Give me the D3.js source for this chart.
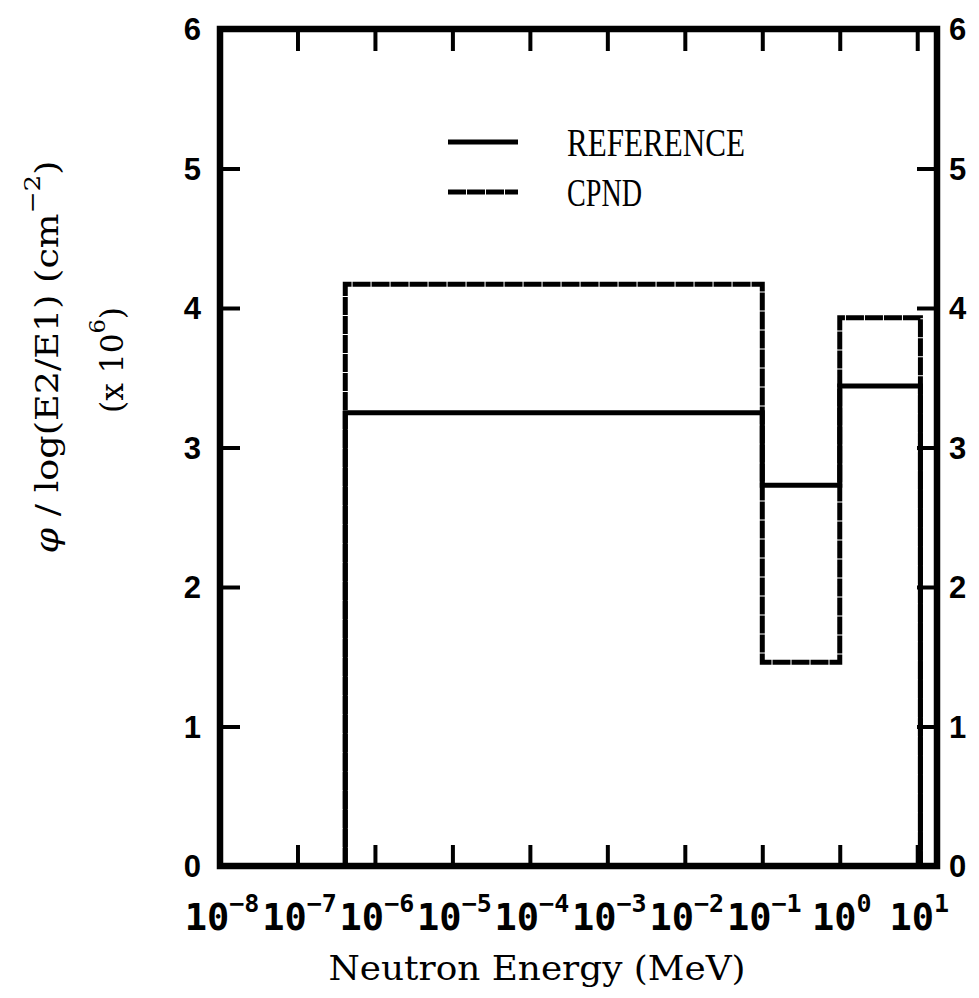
<!DOCTYPE html>
<html>
<head>
<meta charset="utf-8">
<script src="https://cdn.jsdelivr.net/npm/d3@7"></script>
<style>
  html, body { margin: 0; padding: 0; background: #fff; }
  svg { display: block; }
</style>
</head>
<body>
<svg id="chart" width="979" height="998"></svg>
<script>
// Energy bin boundaries (MeV) shared by both spectra
const binEdges = [4.14e-7, 0.1, 1, 11];
// Flux per unit lethargy in each bin (x 10^6 cm^-2)
const referenceValues = [3.25, 2.73, 3.44];
const cpndValues = [4.17, 1.46, 3.93];

// Axis ticks
const xDecades = [-8, -7, -6, -5, -4, -3, -2, -1, 0, 1];
const yTicks = [0, 1, 2, 3, 4, 5, 6];
const seriesNames = ["REFERENCE", "CPND"];

const svg = d3.select("#chart");
const plotLeft = 220, plotRight = 937, plotTop = 29, plotBottom = 866;

const x = d3.scaleLog().domain([1e-8, 18]).range([plotLeft, plotRight]);
const y = d3.scaleLinear().domain([0, 6]).range([plotBottom, plotTop]);

const tickFont = "'Liberation Sans', Arial, sans-serif";
const monoFont = "'DejaVu Sans Mono', monospace";
const serifFont = "'Liberation Serif', 'DejaVu Serif', serif";
const wideSerif = "'DejaVu Serif', serif";
const cpndDash = "18,1";

// Histogram outline from bin edges and values
function stepPoints(values) {
  const pts = [[binEdges[0], 0]];
  values.forEach((v, i) => {
    pts.push([binEdges[i], v]);
    pts.push([binEdges[i + 1], v]);
  });
  pts.push([binEdges[binEdges.length - 1], 0]);
  return pts;
}
const line = d3.line().x(d => x(d[0])).y(d => y(d[1]));

// CPND spectrum (fine dashes)
svg.append("path")
  .attr("d", line(stepPoints(cpndValues)))
  .attr("fill", "none").attr("stroke", "#000")
  .attr("stroke-width", 5).attr("stroke-dasharray", cpndDash)
  .attr("stroke-linejoin", "miter");

// Reference spectrum (solid)
svg.append("path")
  .attr("d", line(stepPoints(referenceValues)))
  .attr("fill", "none").attr("stroke", "#000")
  .attr("stroke-width", 5).attr("stroke-linejoin", "miter");

// Axis ticks drawn inward on all four sides
const tickVals = xDecades.slice(1).map(p => Math.pow(10, p));
const axisB = d3.axisBottom(x).tickValues(tickVals).tickSize(-21).tickFormat("");
const axisT = d3.axisTop(x).tickValues(tickVals).tickSize(-22).tickFormat("");
const innerY = yTicks.slice(1, -1);
const axisL = d3.axisLeft(y).tickValues(innerY).tickSize(-20).tickFormat("");
const axisR = d3.axisRight(y).tickValues(innerY).tickSize(-20).tickFormat("");

function styleAxis(g) {
  g.select(".domain").remove();
  g.selectAll(".tick line").attr("stroke", "#000").attr("stroke-width", 4);
}
svg.append("g").attr("transform", `translate(0,${plotBottom})`).call(axisB).call(styleAxis);
svg.append("g").attr("transform", `translate(0,${plotTop})`).call(axisT).call(styleAxis);
svg.append("g").attr("transform", `translate(${plotLeft},0)`).call(axisL).call(styleAxis);
svg.append("g").attr("transform", `translate(${plotRight},0)`).call(axisR).call(styleAxis);

// Plot frame
svg.append("rect")
  .attr("x", plotLeft).attr("y", plotTop)
  .attr("width", plotRight - plotLeft).attr("height", plotBottom - plotTop)
  .attr("fill", "none").attr("stroke", "#000").attr("stroke-width", 6.5);

// Y tick labels on both sides
yTicks.forEach(v => {
  svg.append("text")
    .attr("x", 201).attr("y", y(v) + 11)
    .attr("text-anchor", "end")
    .attr("font-family", tickFont).attr("font-weight", "bold").attr("font-size", 31)
    .text(v);
  svg.append("text")
    .attr("x", 949).attr("y", y(v) + 11)
    .attr("text-anchor", "start")
    .attr("font-family", tickFont).attr("font-weight", "bold").attr("font-size", 31)
    .text(v);
});

// X tick labels: 10 with superscript exponent
xDecades.forEach(p => {
  const t = svg.append("text")
    .attr("x", x(Math.pow(10, p)) + 2).attr("y", 930)
    .attr("text-anchor", "middle")
    .attr("font-family", monoFont).attr("font-weight", "bold").attr("font-size", 37);
  t.append("tspan").text("10");
  t.append("tspan")
    .attr("dy", -18).attr("font-size", 25)
    .text(p < 0 ? "\u2212" + Math.abs(p) : String(p));
});

// X axis title
svg.append("text")
  .attr("x", 537).attr("y", 980)
  .attr("text-anchor", "middle")
  .attr("font-family", wideSerif).attr("font-size", 34)
  .attr("textLength", 417).attr("lengthAdjust", "spacingAndGlyphs")
  .text("Neutron Energy (MeV)");

// Y axis title (two lines, rotated)
const yTitle = svg.append("text")
  .attr("transform", "translate(58,357) rotate(-90)")
  .attr("text-anchor", "middle")
  .attr("font-family", wideSerif).attr("font-size", 32)
  .attr("textLength", 393).attr("lengthAdjust", "spacingAndGlyphs");
yTitle.append("tspan").attr("font-style", "italic").text("\u03C6");
yTitle.append("tspan").text(" / log(E2/E1) (cm");
yTitle.append("tspan").attr("dy", -18).attr("font-size", 23).text("\u22122");
yTitle.append("tspan").attr("dy", 18).text(")");

const yTitle2 = svg.append("text")
  .attr("transform", "translate(123,360) rotate(-90)")
  .attr("text-anchor", "middle")
  .attr("font-family", wideSerif).attr("font-size", 32)
  .attr("textLength", 106).attr("lengthAdjust", "spacingAndGlyphs");
yTitle2.append("tspan").text("(x 10");
yTitle2.append("tspan").attr("dy", -18).attr("font-size", 23).text("6");
yTitle2.append("tspan").attr("dy", 18).text(")");

// Legend
const legendRows = [
  { name: seriesNames[0], y: 142, dash: null, textW: 178 },
  { name: seriesNames[1], y: 192, dash: cpndDash, textW: 75 }
];
legendRows.forEach(r => {
  const l = svg.append("line")
    .attr("x1", 448).attr("x2", 518)
    .attr("y1", r.y).attr("y2", r.y)
    .attr("stroke", "#000").attr("stroke-width", 5);
  if (r.dash) l.attr("stroke-dasharray", r.dash);
  svg.append("text")
    .attr("x", 567).attr("y", r.y + 14)
    .attr("font-family", serifFont).attr("font-size", 40)
    .attr("textLength", r.textW).attr("lengthAdjust", "spacingAndGlyphs")
    .text(r.name);
});
</script>
</body>
</html>
